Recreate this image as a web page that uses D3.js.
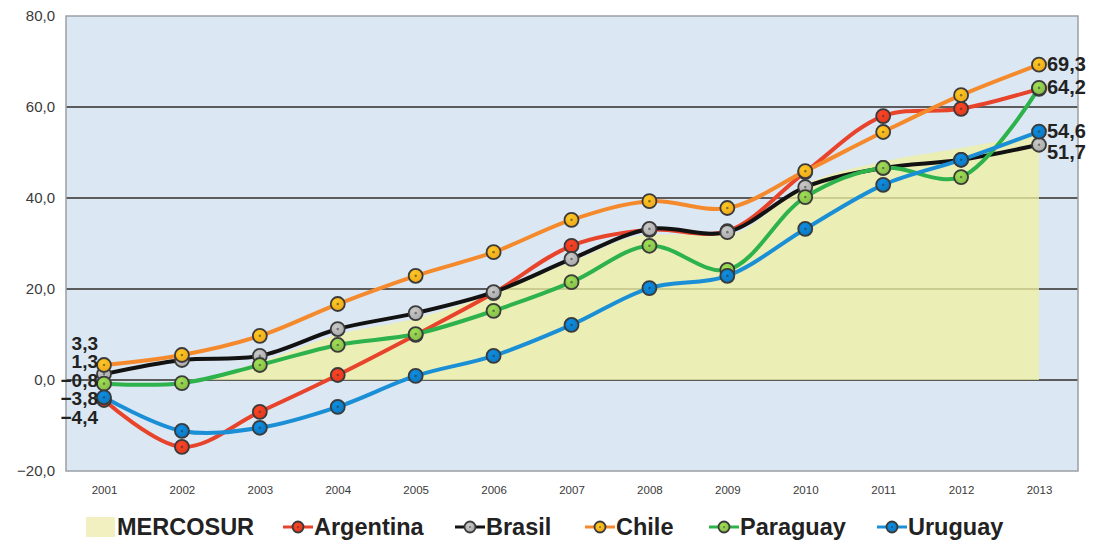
<!DOCTYPE html>
<html>
<head>
<meta charset="utf-8">
<script src="https://cdn.jsdelivr.net/npm/d3@7"></script>
<style>
  body { margin: 0; background: #fff; }
  text { font-family: "Liberation Sans", Arial, sans-serif; }
</style>
</head>
<body>
<div id="chart"></div>
<script>
// years on the x axis
var years = [2001, 2002, 2003, 2004, 2005, 2006, 2007, 2008, 2009, 2010, 2011, 2012, 2013];

// series values
var mercosur  = [0, 0, 4, 10, 13.5, 19, 26, 32, 32, 43, 48, 51, 54];
var argentina = [-4.4, -14.7, -7.0, 1.1, 9.9, 19.1, 29.5, 33.0, 32.7, 45.7, 58.0, 59.6, 64.0];
var brasil    = [1.3, 4.4, 5.3, 11.2, 14.7, 19.3, 26.6, 33.2, 32.5, 42.4, 46.6, 48.4, 51.7];
var chile     = [3.3, 5.5, 9.7, 16.7, 22.9, 28.1, 35.2, 39.3, 37.8, 45.9, 54.5, 62.6, 69.3];
var paraguay  = [-0.8, -0.7, 3.3, 7.7, 10.1, 15.2, 21.5, 29.5, 24.2, 40.2, 46.6, 44.6, 64.2];
var uruguay   = [-3.8, -11.2, -10.5, -5.9, 0.9, 5.3, 12.1, 20.2, 22.9, 33.2, 42.9, 48.4, 54.6];

var yTicks = [-20, 0, 20, 40, 60, 80];

// line series, in legend order
var series = [
  {name: "Argentina", values: argentina, line: "#e8432b", dot: "#e0391f", endLabel: false},
  {name: "Brasil",    values: brasil,    line: "#121212", dot: "#a9a9a9", endLabel: true},
  {name: "Chile",     values: chile,     line: "#f58a2c", dot: "#efa81c", endLabel: true},
  {name: "Paraguay",  values: paraguay,  line: "#2db24c", dot: "#86bc48", endLabel: true},
  {name: "Uruguay",   values: uruguay,   line: "#1b8fd6", dot: "#0b78c0", endLabel: true}
];

var W = 1098, H = 543;
var plot = {left: 66, right: 1078, top: 16, bottom: 471};

var fmt = function(v) { return d3.format(".1f")(v).replace(".", ","); };

var x = d3.scalePoint().domain(years).range([104, 1039]);
var y = d3.scaleLinear().domain([-20, 80]).range([plot.bottom, plot.top]);

var svg = d3.select("#chart").append("svg")
    .attr("width", W)
    .attr("height", H);

// marker gradients
var defs = svg.append("defs");
series.forEach(function(s, i) {
  var g = defs.append("radialGradient")
      .attr("id", "dot" + i)
      .attr("cx", "40%").attr("cy", "35%").attr("r", "65%");
  g.append("stop").attr("offset", "0%").attr("stop-color", d3.color(s.dot).brighter(0.5));
  g.append("stop").attr("offset", "100%").attr("stop-color", s.dot);
});

// plot background
svg.append("rect")
    .attr("x", plot.left).attr("y", plot.top)
    .attr("width", plot.right - plot.left)
    .attr("height", plot.bottom - plot.top)
    .attr("fill", "#dbe7f3");

// grid lines
svg.append("g").selectAll("line")
    .data(yTicks.filter(function(t) { return t > -20 && t < 80; }))
  .enter().append("line")
    .attr("x1", plot.left).attr("x2", plot.right)
    .attr("y1", function(d) { return y(d); })
    .attr("y2", function(d) { return y(d); })
    .attr("stroke", "#5c5c5c")
    .attr("stroke-width", 2);

// MERCOSUR area
var area = d3.area()
    .x(function(d, i) { return x(years[i]); })
    .y0(y(0))
    .y1(function(d) { return y(d); })
    .curve(d3.curveMonotoneX);

svg.append("path")
    .datum(mercosur)
    .attr("d", area)
    .attr("fill", "#f0f2a2")
    .attr("fill-opacity", 0.75);

// frame
svg.append("rect")
    .attr("x", plot.left).attr("y", plot.top)
    .attr("width", plot.right - plot.left)
    .attr("height", plot.bottom - plot.top)
    .attr("fill", "none")
    .attr("stroke", "#9aa0a6")
    .attr("stroke-width", 1.5);

// y axis
var yAxis = d3.axisLeft(y).tickValues(yTicks).tickSize(0).tickPadding(0).tickFormat(fmt);
var gy = svg.append("g")
    .attr("transform", "translate(55,0)")
    .call(yAxis);
gy.select(".domain").remove();
gy.selectAll("text")
    .attr("font-size", 15)
    .attr("fill", "#3a3a3a")
    .style("font-family", "'Liberation Sans', Arial, sans-serif");

// x axis
var xAxis = d3.axisBottom(x).tickSize(0).tickPadding(0);
var gx = svg.append("g")
    .attr("transform", "translate(0,486)")
    .call(xAxis);
gx.select(".domain").remove();
gx.selectAll("text")
    .attr("font-size", 11.5)
    .attr("fill", "#3a3a3a")
    .style("font-family", "'Liberation Sans', Arial, sans-serif");

// lines
var line = d3.line()
    .x(function(d, i) { return x(years[i]); })
    .y(function(d) { return y(d); })
    .curve(d3.curveCatmullRom.alpha(0.5));

function drawMarker(sel, i, r) {
  sel.append("circle")
      .attr("r", r)
      .attr("fill", "url(#dot" + i + ")")
      .attr("stroke", "#3a3a3a")
      .attr("stroke-width", 1.8);
  sel.append("circle")
      .attr("r", r * 0.19)
      .attr("fill", "#333")
      .attr("fill-opacity", 0.55);
}

series.forEach(function(s, i) {
  svg.append("path")
      .datum(s.values)
      .attr("d", line)
      .attr("fill", "none")
      .attr("stroke", s.line)
      .attr("stroke-width", 4)
      .attr("stroke-linejoin", "round");
});

series.forEach(function(s, i) {
  svg.append("g").selectAll("g")
      .data(s.values)
    .enter().append("g")
      .attr("transform", function(d, j) { return "translate(" + x(years[j]) + "," + y(d) + ")"; })
      .each(function() { drawMarker(d3.select(this), i, 7); });
});

// start labels, stacked around the zero line
var starts = series.map(function(s) { return s.values[0]; })
    .sort(function(a, b) { return b - a; });
svg.append("g").selectAll("text")
    .data(starts)
  .enter().append("text")
    .attr("x", 98)
    .attr("y", function(d, i) { return y(0) + (i - 2) * 18.4; })
    .attr("dy", "0.36em")
    .attr("text-anchor", "end")
    .attr("font-size", 19)
    .attr("font-weight", "bold")
    .attr("fill", "#222")
    .text(fmt);

// end labels, pushed apart when they collide
var ends = series.filter(function(s) { return s.endLabel; })
    .map(function(s) { return s.values[s.values.length - 1]; })
    .sort(function(a, b) { return b - a; });
var lastY = -Infinity;
var endPos = ends.map(function(v) {
  var p = Math.max(y(v) - 1, lastY + 21);
  lastY = p;
  return p;
});
svg.append("g").selectAll("text")
    .data(ends)
  .enter().append("text")
    .attr("x", 1047)
    .attr("y", function(d, i) { return endPos[i]; })
    .attr("dy", "0.36em")
    .attr("font-size", 20)
    .attr("font-weight", "bold")
    .attr("fill", "#222")
    .text(fmt);

// legend
var legend = svg.append("g").attr("transform", "translate(0,527)");
var legendX = [298, 470, 600, 724, 892];   // marker centres

legend.append("rect")
    .attr("x", 86).attr("y", -10)
    .attr("width", 29).attr("height", 20)
    .attr("fill", "#f2f0c0");
legend.append("text")
    .attr("x", 117).attr("dy", "0.36em")
    .attr("font-size", 23.5).attr("font-weight", "bold").attr("fill", "#222")
    .text("MERCOSUR");

series.forEach(function(s, i) {
  var g = legend.append("g").attr("transform", "translate(" + legendX[i] + ",0)");
  g.append("line")
      .attr("x1", -15).attr("x2", 15)
      .attr("stroke", s.line).attr("stroke-width", 3);
  drawMarker(g.append("g"), i, 5.5);
  g.append("text")
      .attr("x", 16).attr("dy", "0.36em")
      .attr("font-size", 23.5).attr("font-weight", "bold").attr("fill", "#222")
      .text(s.name);
});
</script>
</body>
</html>
